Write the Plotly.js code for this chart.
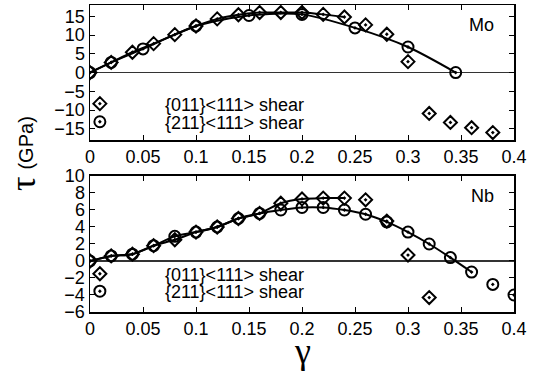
<!DOCTYPE html>
<html>
<head>
<meta charset="utf-8">
<script src="https://cdn.plot.ly/plotly-3.0.1.min.js"></script>
<style>html,body{margin:0;padding:0;background:#fff;}#chart{width:538px;height:372px;}</style>
</head>
<body>
<div id="chart"></div>
<script>
// ---- Mo panel data ----
const moDiamondX = [0,0.02,0.04,0.06,0.08,0.1,0.12,0.14,0.16,0.18,0.2,0.22,0.24,0.26,0.28,0.3,0.32,0.34,0.36,0.38];
const moDiamondY = [0,2.7,5.4,7.7,10.1,12.4,14.3,15.4,16.0,16.0,16.0,15.5,14.8,12.7,10.2,2.9,-10.9,-13.3,-14.7,-16.0];
const moCircleX = [0,0.02,0.05,0.1,0.15,0.2,0.25,0.3,0.345];
const moCircleY = [0,2.7,6.3,12.4,15.2,15.5,11.9,6.8,0];
const moDiamondFitCount = 13; // fitted curve drawn through the first points

// ---- Nb panel data ----
const nbDiamondX = [0,0.02,0.04,0.06,0.08,0.1,0.12,0.14,0.16,0.18,0.2,0.22,0.24,0.26,0.28,0.3,0.32];
const nbDiamondY = [0,0.6,0.8,1.8,2.5,3.4,4.0,5.0,5.6,6.8,7.3,7.4,7.4,7.2,4.7,0.7,-4.3];
const nbCircleX = [0,0.02,0.04,0.06,0.08,0.1,0.12,0.14,0.16,0.18,0.2,0.22,0.24,0.26,0.28,0.3,0.32,0.34,0.36,0.38,0.4];
const nbCircleY = [0,0.6,0.8,1.8,2.9,3.4,4.0,5.0,5.6,6.0,6.3,6.3,6.0,5.5,4.6,3.4,2.0,0.4,-1.3,-2.75,-4.0];
const nbDiamondFitCount = 13;
const nbCircleFitCount = 19;

// ---- labels ----
const seriesNames = ['{011}<111> shear', '{211}<111> shear'];
const panelNames = ['Mo', 'Nb'];
const xTicks = [0,0.05,0.1,0.15,0.2,0.25,0.3,0.35,0.4];
const xTickText = ['0','0.05','0.1','0.15','0.2','0.25','0.3','0.35','0.4'];
const moYTicks = [-15,-10,-5,0,5,10,15];
const nbYTicks = [-6,-4,-2,0,2,4,6,8,10];

const FONT = 'Liberation Sans, Arial, Helvetica, sans-serif';
const GREEK = 'Liberation Serif, DejaVu Serif, serif';
const FS = 18;
const lineStyle = {color:'#000', width:2, shape:'spline', smoothing:0.8};
const diamondMarker = {symbol:'diamond-open-dot', size:10, color:'#000', line:{width:2, color:'#000'}};
const circleMarker = {symbol:'circle-open-dot', size:11, color:'#000', line:{width:2, color:'#000'}};

const traces = [
  // Mo lines
  {x: moDiamondX.slice(0, moDiamondFitCount), y: moDiamondY.slice(0, moDiamondFitCount), mode:'lines', line:lineStyle, xaxis:'x', yaxis:'y', showlegend:false, hoverinfo:'skip'},
  {x: moCircleX, y: moCircleY, mode:'lines', line:lineStyle, xaxis:'x', yaxis:'y', showlegend:false, hoverinfo:'skip'},
  // Mo markers
  {x: moDiamondX, y: moDiamondY, mode:'markers', marker:diamondMarker, name:seriesNames[0], xaxis:'x', yaxis:'y', legend:'legend'},
  {x: moCircleX, y: moCircleY, mode:'markers', marker:circleMarker, name:seriesNames[1], xaxis:'x', yaxis:'y', legend:'legend2'},
  // Nb lines
  {x: nbDiamondX.slice(0, nbDiamondFitCount), y: nbDiamondY.slice(0, nbDiamondFitCount), mode:'lines', line:lineStyle, xaxis:'x2', yaxis:'y2', showlegend:false, hoverinfo:'skip'},
  {x: nbCircleX.slice(0, nbCircleFitCount), y: nbCircleY.slice(0, nbCircleFitCount), mode:'lines', line:lineStyle, xaxis:'x2', yaxis:'y2', showlegend:false, hoverinfo:'skip'},
  // Nb markers
  {x: nbDiamondX, y: nbDiamondY, mode:'markers', marker:diamondMarker, name:seriesNames[0], xaxis:'x2', yaxis:'y2', legend:'legend3'},
  {x: nbCircleX, y: nbCircleY, mode:'markers', marker:circleMarker, name:seriesNames[1], xaxis:'x2', yaxis:'y2', legend:'legend4'}
];

const baseX = {
  range:[0,0.4], tickmode:'array', tickvals:xTicks, ticktext:xTickText,
  ticks:'inside', ticklen:5, tickwidth:1, tickcolor:'#000',
  showline:true, linecolor:'#000', linewidth:1.5, mirror:'ticks',
  showgrid:false, zeroline:false, tickfont:{family:FONT, size:FS, color:'#000'}
};
const baseY = {
  ticks:'inside', ticklen:5, tickwidth:1, tickcolor:'#000',
  showline:true, linecolor:'#000', linewidth:1.5, mirror:'ticks',
  showgrid:false, zeroline:true, zerolinecolor:'#333', zerolinewidth:1.5,
  tickfont:{family:FONT, size:FS, color:'#000'}, tickmode:'array'
};

const legendBase = {
  bgcolor:'rgba(0,0,0,0)', borderwidth:0, itemwidth:120,
  font:{family:FONT, size:FS, color:'#000'}, xanchor:'left', yanchor:'top',
  tracegroupgap:0, itemclick:false, x:-0.13
};

const layout = {
  width:538, height:372,
  margin:{l:90, r:24, t:5, b:60},
  paper_bgcolor:'#fff', plot_bgcolor:'#fff',
  font:{family:FONT, size:FS, color:'#000'},
  xaxis: Object.assign({}, baseX, {anchor:'y'}),
  yaxis: Object.assign({}, baseY, {domain:[0.560,1], range:[-18,18], tickvals:moYTicks, anchor:'x'}),
  xaxis2: Object.assign({}, baseX, {anchor:'y2'}),
  yaxis2: Object.assign({}, baseY, {domain:[0,0.443], range:[-6,10], tickvals:nbYTicks, anchor:'x2'}),
  legend: Object.assign({}, legendBase, {y:0.738}),
  legend2: Object.assign({}, legendBase, {y:0.679}),
  legend3: Object.assign({}, legendBase, {y:0.184}),
  legend4: Object.assign({}, legendBase, {y:0.127}),
  annotations:[
    {text:panelNames[0], xref:'x', yref:'y', x:0.4, y:18, xanchor:'right', yanchor:'top', xshift:-18, yshift:-8, showarrow:false, font:{family:FONT, size:FS, color:'#000'}},
    {text:panelNames[1], xref:'x2', yref:'y2', x:0.4, y:10, xanchor:'right', yanchor:'top', xshift:-18, yshift:-8, showarrow:false, font:{family:FONT, size:FS, color:'#000'}},
    {text:'τ', xref:'paper', yref:'paper', x:-0.158, y:0.417, xanchor:'center', yanchor:'middle', textangle:-90, showarrow:false, font:{family:GREEK, size:36, color:'#000'}},
    {text:'(GPa)', xref:'paper', yref:'paper', x:-0.150, y:0.550, xanchor:'center', yanchor:'middle', textangle:-90, showarrow:false, font:{family:FONT, size:20, color:'#000'}},
    {text:'γ', xref:'paper', yref:'paper', x:0.5, y:-0.126, xanchor:'center', yanchor:'middle', showarrow:false, font:{family:GREEK, size:36, color:'#000'}}
  ]
};

Plotly.newPlot('chart', traces, layout, {staticPlot:true, displayModeBar:false});
</script>
</body>
</html>
